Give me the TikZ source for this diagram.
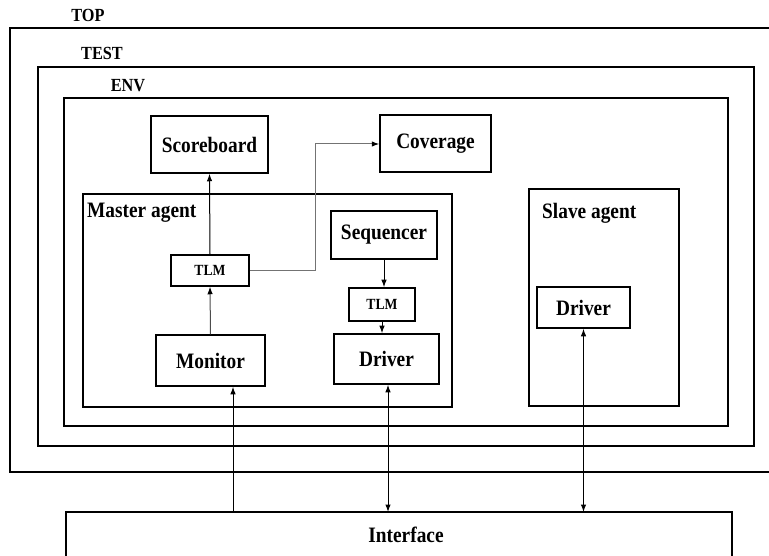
\documentclass[tikz,border=0pt]{standalone}
\usepackage{fontspec}
\setmainfont{Liberation Serif}[FakeStretch=0.88]
\usetikzlibrary{arrows.meta}
\begin{document}
\begin{tikzpicture}[x=1pt,y=-1pt,
  frame/.style={draw, line width=1.6pt},
  box/.style={draw, line width=1.5pt, inner sep=0pt, font=\bfseries\fontsize{22}{26}\selectfont},
  tlmbox/.style={draw, line width=1.5pt, inner sep=0pt, font=\bfseries\fontsize{15.5}{18}\selectfont},
  lbl/.style={inner sep=0pt, font=\bfseries\fontsize{18.5}{22}\selectfont},
  albl/.style={inner sep=0pt, anchor=west, font=\bfseries\fontsize{22}{26}\selectfont},
  conn/.style={line width=1pt, -{Latex[length=7.5pt,width=5.5pt]}},
  mconn/.style={line width=1pt, draw=black!70, -{Latex[length=7.5pt,width=5.5pt,color=black]}},
  gconn/.style={line width=1pt, draw=black!55, -{Latex[length=7.5pt,width=5.5pt,color=black]}},
  bconn/.style={line width=1pt, {Latex[length=7.5pt,width=5.5pt]}-{Latex[length=7.5pt,width=5.5pt]}}
]
\useasboundingbox (0,0) rectangle (769,556);
\clip (0,0) rectangle (769,556);
\fill[white] (0,0) rectangle (769,556);

% frames
\draw[frame] (10,28) rectangle (790,472);
\node[lbl] (topl) at (88,15) {TOP};
\draw[frame] (38,67) rectangle (754,446);
\node[lbl] (testl) at (102,53) {TEST};
\draw[frame] (64,98) rectangle (728,426);
\node[lbl] (envl) at (128,86) {ENV};

% agents
\node[draw, line width=1.5pt, minimum width=369pt, minimum height=213pt, inner sep=0pt] (master) at (267.5,300.5) {};
\node[albl] (masterl) at (87,213) {Master agent};
\node[draw, line width=1.5pt, minimum width=150pt, minimum height=217pt, inner sep=0pt] (slave) at (604,297.5) {};
\node[albl] (slavel) at (542,213) {Slave agent};

% components
\node[box, minimum width=117pt, minimum height=57pt] (score) at (209.5,144.5) {Scoreboard};
\node[box, minimum width=111pt, minimum height=57pt] (cov) at (435.5,143.5) {Coverage};
\node[tlmbox, minimum width=78pt, minimum height=31pt] (tlma) at (210,270.5) {TLM};
\node[box, minimum width=106pt, minimum height=48pt] (seq) at (384,235) {Sequencer};
\node[tlmbox, minimum width=66pt, minimum height=33pt] (tlmb) at (382,304.5) {TLM};
\node[box, minimum width=109pt, minimum height=51pt] (mon) at (210.5,360.5) {Monitor};
\node[box, minimum width=105pt, minimum height=50pt] (drvm) at (386.5,359) {Driver};
\node[box, minimum width=93pt, minimum height=41pt] (drvs) at (583.5,307.5) {Driver};

% interface
\draw[line width=1.5pt] (66,600) -- (66,512) -- (732,512) -- (732,600);
\coordinate (iftop) at (0,512);
\node[box, draw=none] (iface) at (406,535) {Interface};

% connectors
\draw[conn] (tlma.north) -- (score.south);
\draw[mconn] (mon.north) -- (tlma.south);
\draw[gconn] (tlma.east) -- (315,270.5) -- (315,144) -- (cov.west |- 0,144);
\draw[conn] (seq.south) -- (seq.south |- tlmb.north);
\draw[conn] (tlmb.south) -- (tlmb.south |- drvm.north);
\draw[conn] (233,512) coordinate (mi) -- (mi |- mon.south);
\draw[bconn] (388,512) coordinate (di) -- (di |- drvm.south);
\draw[bconn] (583.5,512) coordinate (si) -- (si |- drvs.south);
\end{tikzpicture}
\end{document}
